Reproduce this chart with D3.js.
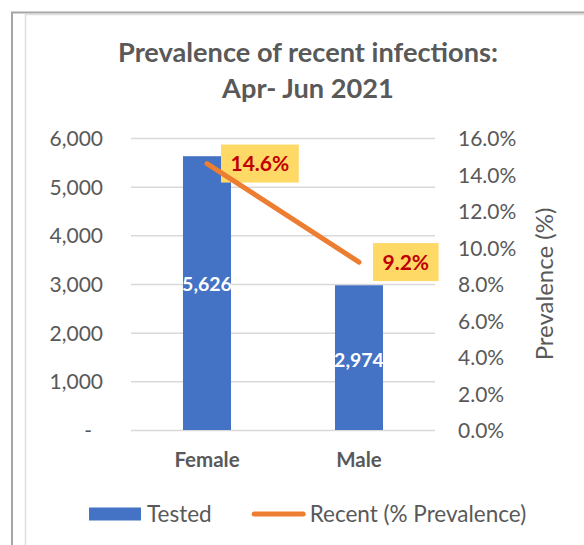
<!DOCTYPE html>
<html>
<head>
<meta charset="utf-8">
<script src="https://cdn.jsdelivr.net/npm/d3@7"></script>
<style>
  body { margin: 0; background: #fff; }
  svg { display: block; font-family: Lato, "Open Sans", sans-serif; }
</style>
</head>
<body>
<script>
var categories = ["Female", "Male"];
var tested = [5626, 2974];
var prevalence = [14.6, 9.2];
var leftTicks = [0, 1000, 2000, 3000, 4000, 5000, 6000];
var rightTicks = [0, 2, 4, 6, 8, 10, 12, 14, 16];
var titleLines = ["Prevalence of recent infections:", "Apr- Jun 2021"];
var seriesNames = ["Tested", "Recent (% Prevalence)"];

var width = 584, height = 545;
var plot = { left: 131, right: 435, top: 138, bottom: 430 };
var textColor = "#595959";
var barColor = "#4472C4";
var lineColor = "#ED7D31";

var svg = d3.select("body").append("svg")
  .attr("width", width)
  .attr("height", height);

// chart frame
svg.append("rect")
  .attr("x", 12).attr("y", 12.5)
  .attr("width", width).attr("height", height)
  .attr("fill", "none").attr("stroke", "#a6a6a6").attr("stroke-width", 2);
svg.append("rect")
  .attr("x", 25.5).attr("y", 14.5)
  .attr("width", width).attr("height", height)
  .attr("fill", "#fff").attr("stroke", "#dedede").attr("stroke-width", 1.5);

var x = d3.scaleBand()
  .domain(categories)
  .range([plot.left, plot.right])
  .paddingInner(0.684)
  .paddingOuter(0.342);

var yLeft = d3.scaleLinear().domain([0, 6000]).range([plot.bottom, plot.top]);
var yRight = d3.scaleLinear().domain([0, 16]).range([plot.bottom, plot.top]);

// title
svg.append("g").selectAll("text")
  .data(titleLines)
  .join("text")
  .attr("x", 308)
  .attr("y", function(d, i){ return 62 + i * 36; })
  .attr("text-anchor", "middle")
  .attr("font-size", 27.2)
  .attr("font-weight", "bold")
  .attr("fill", textColor)
  .text(function(d){ return d; });

// gridlines
var grid = svg.append("g")
  .attr("transform", "translate(" + plot.left + ",0)")
  .call(d3.axisLeft(yLeft).tickValues(leftTicks).tickSize(-(plot.right - plot.left)).tickFormat(""));
grid.select(".domain").remove();
grid.selectAll("line").attr("stroke", "#d9d9d9").attr("stroke-width", 1.5);

// left axis
var leftAxis = svg.append("g")
  .attr("transform", "translate(" + plot.left + ",0)")
  .call(d3.axisLeft(yLeft).tickValues(leftTicks).tickSize(0).tickPadding(28)
    .tickFormat(function(d){ return d === 0 ? "-" : d3.format(",")(d); }));
leftAxis.select(".domain").remove();
leftAxis.selectAll("text")
  .attr("font-family", "Lato")
  .attr("font-size", 21)
  .attr("fill", textColor)
  .attr("dy", "0.36em");
leftAxis.selectAll("text").filter(function(d){ return d === 0; }).attr("dx", -11);

// right axis
var rightAxis = svg.append("g")
  .attr("transform", "translate(" + plot.right + ",0)")
  .call(d3.axisRight(yRight).tickValues(rightTicks).tickSize(0).tickPadding(23)
    .tickFormat(function(d){ return d.toFixed(1) + "%"; }));
rightAxis.select(".domain").remove();
rightAxis.selectAll("text")
  .attr("font-family", "Lato")
  .attr("font-size", 21)
  .attr("fill", textColor)
  .attr("dy", "0.36em");

svg.append("text")
  .attr("transform", "translate(544,284) rotate(-90)")
  .attr("text-anchor", "middle")
  .attr("dy", "0.36em")
  .attr("font-size", 24)
  .attr("fill", textColor)
  .text("Prevalence (%)");

// bars
svg.append("g").selectAll("rect")
  .data(tested)
  .join("rect")
  .attr("x", function(d, i){ return x(categories[i]); })
  .attr("y", function(d){ return yLeft(d); })
  .attr("width", x.bandwidth())
  .attr("height", function(d){ return yLeft(0) - yLeft(d); })
  .attr("fill", barColor);

// bar value labels
var labelNudge = [-9, 2];
svg.append("g").selectAll("text")
  .data(tested)
  .join("text")
  .attr("x", function(d, i){ return x(categories[i]) + x.bandwidth() / 2; })
  .attr("y", function(d, i){ return yLeft(d / 2) + labelNudge[i]; })
  .attr("dy", "0.36em")
  .attr("text-anchor", "middle")
  .attr("font-size", 19.5)
  .attr("font-weight", "bold")
  .attr("fill", "#fff")
  .text(function(d){ return d3.format(",")(d); });

// category labels
svg.append("g").selectAll("text")
  .data(categories)
  .join("text")
  .attr("x", function(d){ return x(d) + x.bandwidth() / 2; })
  .attr("y", 467)
  .attr("text-anchor", "middle")
  .attr("font-size", 20.5)
  .attr("font-weight", "bold")
  .attr("fill", textColor)
  .text(function(d){ return d; });

// prevalence labels (boxes first, line over them, text last)
var pts = prevalence.map(function(v, i){
  return { x: x(categories[i]) + x.bandwidth() / 2, y: yRight(v), v: v };
});

var boxG = svg.append("g");
var labelG = svg.append("g");
pts.forEach(function(p){
  var t = labelG.append("text")
    .attr("x", 0).attr("y", p.y)
    .attr("dy", "0.36em")
    .attr("text-anchor", "middle")
    .attr("font-size", 21)
    .attr("font-weight", "bold")
    .attr("fill", "#C00000")
    .text(p.v.toFixed(1) + "%");
  var w = t.node().getComputedTextLength() + 19;
  var h = 38;
  var bx = p.x + 14;
  t.attr("x", bx + w / 2);
  boxG.append("rect")
    .attr("x", bx).attr("y", p.y - h / 2)
    .attr("width", w).attr("height", h)
    .attr("fill", "#FFD966");
});

var line = d3.line().x(function(d){ return d.x; }).y(function(d){ return d.y; });
svg.insert("path", function(){ return labelG.node(); })
  .datum(pts)
  .attr("d", line)
  .attr("fill", "none")
  .attr("stroke", lineColor)
  .attr("stroke-width", 5)
  .attr("stroke-linecap", "round");

// legend
var legend = svg.append("g");
var legY = 514;
var lx = 89;
legend.append("rect")
  .attr("x", lx).attr("y", legY - 6.5)
  .attr("width", 52).attr("height", 13)
  .attr("fill", barColor);
var t1 = legend.append("text")
  .attr("x", lx + 58).attr("y", 522)
  .attr("font-size", 22.5).attr("fill", textColor)
  .text(seriesNames[0]);
var lx2 = lx + 58 + t1.node().getComputedTextLength() + 40;
legend.append("line")
  .attr("x1", lx2 + 2.5).attr("x2", lx2 + 54 - 2.5)
  .attr("y1", legY).attr("y2", legY)
  .attr("stroke", lineColor).attr("stroke-width", 5)
  .attr("stroke-linecap", "round");
legend.append("text")
  .attr("x", lx2 + 58).attr("y", 522)
  .attr("font-size", 22.5).attr("fill", textColor)
  .text(seriesNames[1]);
</script>
</body>
</html>
